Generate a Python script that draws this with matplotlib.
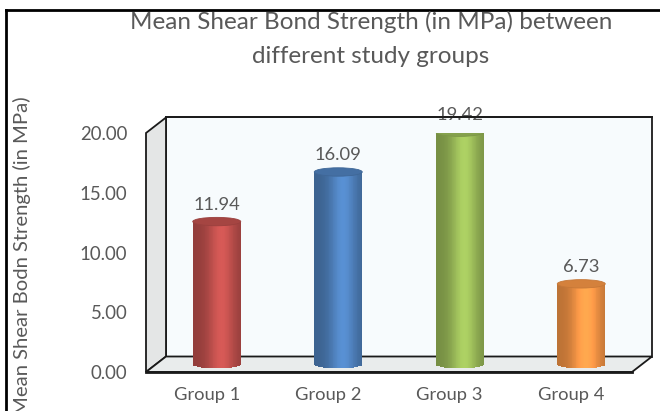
import numpy as np
import matplotlib.pyplot as plt
from matplotlib.patches import Rectangle, Polygon, Ellipse
from matplotlib.lines import Line2D
from matplotlib.colors import to_rgb

groups = ['Group 1', 'Group 2', 'Group 3', 'Group 4']
means = [11.94, 16.09, 19.42, 6.73]
bar_colors = ['#C0504D', '#4F81BD', '#9BBB59', '#F79646']
yticks = [0, 5, 10, 15, 20]
title_lines = ['Mean Shear Bond Strength (in MPa) between', 'different study groups']

plt.rcParams['font.family'] = ['Lato', 'DejaVu Sans']
grey = '#595959'

W, H = 660, 411
fig = plt.figure(figsize=(W / 100, H / 100), dpi=100)
ax = fig.add_axes([146 / W, 39 / H, 486 / W, 239 / H])
x0, x1 = -0.5, len(groups) - 0.5
ymax = 20
ax.set_xlim(x0, x1)
ax.set_ylim(0, ymax)

# pixel sizes -> data units for the fake 3d box
px_x = 486 / (x1 - x0)
px_y = 239 / ymax
dx = 20 / px_x
dy = 15.5 / px_y
bw = 48 / px_x          # cylinder width
eb = 4.2 / px_y         # half height of the cylinder end ellipses

edge = dict(edgecolor='#1a1a1a', linewidth=1.3, clip_on=False)
# back wall, left wall, floor
ax.add_patch(Rectangle((x0 + dx, dy), x1 - x0, ymax, facecolor='#F7FBFD', zorder=1, **edge))
ax.add_patch(Polygon([(x0, 0), (x0, ymax), (x0 + dx, ymax + dy), (x0 + dx, dy)],
                     facecolor='#E4E6E6', zorder=1, **edge))
ax.add_patch(Polygon([(x0, 0), (x1, 0), (x1 + dx, dy), (x0 + dx, dy)],
                     facecolor='#E9ECEC', zorder=1, **edge))
ax.plot([x0, x1], [0, 0], color='#1a1a1a', lw=2, clip_on=False, zorder=2)

# cylinders as thin shaded bar strips
n = 60
t = (np.arange(n) + 0.5) / n
u = 2 * t - 1
shade = 0.76 + 0.36 * np.exp(-((t - 0.6) / 0.28) ** 2)
for i, (v, c) in enumerate(zip(means, bar_colors)):
    base = np.array(to_rgb(c))
    cols = np.clip(base[None, :] * shade[:, None], 0, 1)
    xc = i + dx / 2
    low = dy / 2 - eb * np.sqrt(1 - u ** 2)
    ax.bar(xc - bw / 2 + t * bw, v + dy / 2 - low, width=bw / n * 1.15, bottom=low,
           color=cols, linewidth=0, zorder=3)
    ax.add_patch(Ellipse((xc, v + dy / 2), bw, 2 * eb, facecolor=base * 0.86,
                         edgecolor=base * 0.8, linewidth=0.6, zorder=4))
    ax.text(xc, v + dy / 2 + eb + 0.4, f'{v:.2f}', ha='center', va='bottom',
            fontsize=13.2, color=grey, zorder=2)

ax.plot([x0 + dx, x1 + dx], [ymax + dy, ymax + dy], color='#1a1a1a', lw=1.3,
        clip_on=False, zorder=5)

for s in ax.spines.values():
    s.set_visible(False)
ax.set_xticks(range(len(groups)), groups)
ax.set_yticks(yticks, [f'{y:.2f}' for y in yticks])
ax.tick_params(axis='y', length=0, pad=13.5, labelsize=13.4, labelcolor=grey)
ax.tick_params(axis='x', length=0, pad=11, labelsize=13.2, labelcolor=grey)
ax.set_ylabel('Mean Shear Bodn Strength (in MPa)', fontsize=14.6, color=grey)
ax.yaxis.set_label_coords(-0.237, 0.485)

for k, line in enumerate(title_lines):
    fig.text(371 / W, 1 - (22 + 34 * k) / H, line, ha='center', va='center',
             fontsize=17.5, color=grey)

# chart frame (only top and left edges are inside the image)
fig.add_artist(Line2D([6 / W, 6 / W], [0, 1 - 10 / H], color='black', lw=2))
fig.add_artist(Line2D([6 / W, 1], [1 - 10 / H, 1 - 10 / H], color='black', lw=2))

fig.savefig('out.png', dpi=100)
